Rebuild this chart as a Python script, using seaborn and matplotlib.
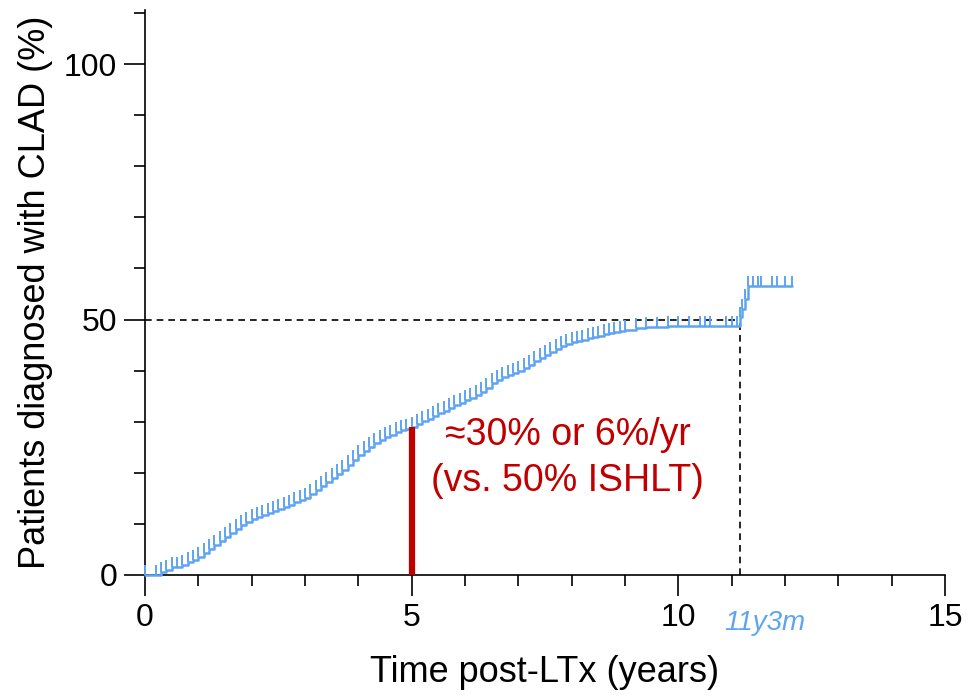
import numpy as np
import pandas as pd
import matplotlib
matplotlib.use("Agg")
import matplotlib.pyplot as plt
import seaborn as sns

# cumulative incidence of CLAD, one entry per event/censor mark
years = [0.0, 0.2, 0.3, 0.4, 0.5, 0.6, 0.7, 0.8, 0.9,
         1.0, 1.1, 1.2, 1.3, 1.4, 1.5, 1.6, 1.7, 1.8, 1.9,
         2.0, 2.1, 2.2, 2.3, 2.4, 2.5, 2.6, 2.7, 2.8, 2.9,
         3.0, 3.1, 3.2, 3.3, 3.4, 3.5, 3.6, 3.7, 3.8, 3.9,
         4.0, 4.1, 4.2, 4.3, 4.4, 4.5, 4.6, 4.7, 4.8, 4.9,
         5.0, 5.1, 5.2, 5.3, 5.4, 5.5, 5.6, 5.7, 5.8, 5.9,
         6.0, 6.1, 6.2, 6.3, 6.4, 6.5, 6.6, 6.7, 6.8, 6.9,
         7.0, 7.1, 7.2, 7.3, 7.4, 7.5, 7.6, 7.7, 7.8, 7.9,
         8.0, 8.1, 8.2, 8.3, 8.4, 8.5, 8.6, 8.7, 8.8, 8.9,
         9.0, 9.2, 9.4, 9.6, 9.8, 10.0, 10.2, 10.4, 10.5, 10.6,
         10.9, 11.0, 11.1, 11.16, 11.2, 11.25, 11.3, 11.4, 11.5,
         11.55, 11.75, 11.85, 12.0, 12.13]
pct = [0.0, 0.0, 0.5, 1.0, 1.5, 1.5, 2.0, 2.5, 3.0,
       3.5, 4.3, 5.1, 5.9, 6.7, 7.5, 8.3, 9.1, 9.8, 10.4,
       11.0, 11.4, 11.8, 12.2, 12.6, 13.0, 13.4, 13.8, 14.2, 14.6,
       15.0, 15.8, 16.6, 17.4, 18.2, 19.0, 19.8, 20.6, 21.6, 22.6,
       23.5, 24.3, 25.1, 25.8, 26.4, 27.0, 27.5, 27.9, 28.3, 28.6,
       29.0, 29.6, 30.1, 30.6, 31.2, 31.7, 32.2, 32.7, 33.2, 33.7,
       34.2, 34.7, 35.2, 35.9, 36.7, 37.5, 38.1, 38.7, 39.2, 39.6,
       40.0, 40.6, 41.2, 41.8, 42.4, 43.0, 43.6, 44.2, 44.8, 45.2,
       45.6, 45.8, 46.0, 46.3, 46.6, 46.8, 47.1, 47.4, 47.6, 47.8,
       48.0, 48.3, 48.5, 48.5, 48.8, 48.8, 48.8, 48.8, 48.8, 48.8,
       48.8, 48.8, 48.8, 50.5, 52.0, 54.0, 56.5, 56.5, 56.5,
       56.5, 56.5, 56.5, 56.5, 56.5]

median_time = 11.16   # 11y3m
median_pct = 50
five_year = 5
five_year_pct = 29
note_lines = ["\u224830% or 6%/yr", "(vs. 50% ISHLT)"]

df = pd.DataFrame({"years": years, "pct": pct})

sns.set_style("ticks")
plt.rcParams["font.family"] = ["Liberation Sans", "DejaVu Sans"]
plt.rcParams["text.color"] = "black"
plt.rcParams["axes.labelcolor"] = "black"
plt.rcParams["xtick.color"] = "black"
plt.rcParams["ytick.color"] = "black"

fig = plt.figure(figsize=(9.69, 6.98), dpi=100)
ax = fig.add_axes([145 / 969, 1 - 575 / 698, 800 / 969, 565 / 698])

blue = "#5ea4f2"
red = "#c00000"

# reference lines for the median
ax.plot([0, median_time], [median_pct, median_pct], color="black", ls=(0, (4, 3)), lw=1.2, zorder=1)
ax.plot([median_time, median_time], [0, median_pct], color="black", ls=(0, (4, 3)), lw=1.2, zorder=1)

sns.lineplot(data=df, x="years", y="pct", ax=ax, estimator=None, sort=False,
             drawstyle="steps-post", color=blue, lw=1.8, marker=2,
             markersize=7, markeredgewidth=1.4, markeredgecolor=blue,
             clip_on=False, zorder=3)

ax.plot([five_year, five_year], [0, five_year_pct], color=red, lw=4.5,
        solid_capstyle="butt", zorder=4, clip_on=False)
ax.text(7.92, 27.4, note_lines[0], color=red, fontsize=27, ha="center", va="center")
ax.text(7.92, 18.4, note_lines[1], color=red, fontsize=27, ha="center", va="center")

ax.text(11.62, -0.085, "11y3m", color=blue, fontsize=20, style="italic",
        ha="center", va="center", transform=ax.get_xaxis_transform())

ax.set_xlim(0, 15)
ax.set_ylim(0, 110.6)
ax.set_xticks([0, 5, 10, 15])
ax.set_xticks(range(0, 16), minor=True)
ax.set_yticks([0, 50, 100])
ax.set_yticks(range(0, 111, 10), minor=True)
ax.tick_params(axis="both", which="major", length=15, width=1.2, labelsize=23, pad=5)
ax.tick_params(axis="both", which="minor", length=8, width=1.2)
ax.set_xlabel("Time post-LTx (years)", fontsize=26, labelpad=16)
ax.set_ylabel("Patients diagnosed with CLAD (%)", fontsize=26, labelpad=8)
for side in ["left", "bottom"]:
    ax.spines[side].set_linewidth(1.2)
    ax.spines[side].set_color("black")
sns.despine(ax=ax)

fig.savefig("out.png", dpi=100)
